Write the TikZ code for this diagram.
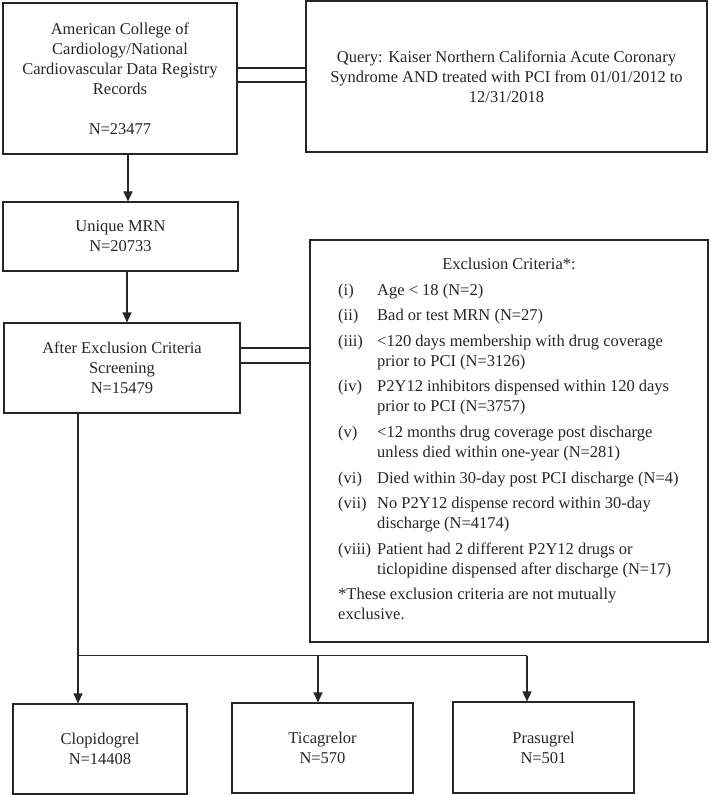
\documentclass[tikz,border=0pt]{standalone}
\usepackage{fontspec}
\setmainfont{Liberation Serif}
\usetikzlibrary{arrows.meta}
\begin{document}
\begin{tikzpicture}[x=1pt,y=-1pt,
  font=\fontsize{16.5}{20}\selectfont,
  box/.style={draw=black!85, line width=1.2pt, rectangle, inner sep=0pt, align=center, text=black!85},
  conn/.style={draw=black!85, line width=1.2pt},
  arr/.style={conn, -{Triangle[width=9pt,length=10pt]}},
  txt/.style={inner sep=0pt, text=black!85}]
\useasboundingbox[fill=white] (0,0) rectangle (710,795);

\node[box, minimum width=234pt, minimum height=151pt] (acc) at (120,78.5)
  {American College of\\Cardiology/National\\Cardiovascular Data Registry\\Records\\[20pt]N=23477};
\node[box, minimum width=401pt, minimum height=151pt] (query) at (506.5,76.5)
  {Query: Kaiser Northern California Acute Coronary\\Syndrome AND treated with PCI from 01/01/2012 to\\12/31/2018};
\node[box, minimum width=235pt, minimum height=69pt] (uniq) at (120.5,236.5)
  {Unique MRN\\N=20733};
\node[box, minimum width=236pt, minimum height=90pt] (after) at (122,368)
  {After Exclusion Criteria\\Screening\\N=15479};
\node[box, minimum width=398pt, minimum height=402pt] (excl) at (509,441) {};
\node[box, minimum width=174pt, minimum height=90pt] (clop) at (100,749)
  {Clopidogrel\\N=14408};
\node[box, minimum width=181pt, minimum height=90pt] (tica) at (322.5,748)
  {Ticagrelor\\N=570};
\node[box, minimum width=181pt, minimum height=91pt] (pras) at (543.5,747.5)
  {Prasugrel\\N=501};

\node[txt, anchor=base] (excltitle) at (509,269) {Exclusion Criteria*:};
\node[txt, anchor=base west] (excllist) at (338,295) {%
\begin{tabular}[t]{@{}p{39pt}@{}l@{}}
(i) & Age < 18 (N=2)\\[5.6pt]
(ii) & Bad or test MRN (N=27)\\[5.6pt]
(iii) & <120 days membership with drug coverage\\
 & prior to PCI (N=3126)\\[5.6pt]
(iv) & P2Y12 inhibitors dispensed within 120 days\\
 & prior to PCI (N=3757)\\[5.6pt]
(v) & <12 months drug coverage post discharge\\
 & unless died within one-year (N=281)\\[5.6pt]
(vi) & Died within 30-day post PCI discharge (N=4)\\[5.6pt]
(vii) & No P2Y12 dispense record within 30-day\\
 & discharge (N=4174)\\[5.6pt]
(viii) & Patient had 2 different P2Y12 drugs or\\
 & ticlopidine dispensed after discharge (N=17)\\[5.6pt]
\multicolumn{2}{@{}l@{}}{*These exclusion criteria are not mutually}\\
\multicolumn{2}{@{}l@{}}{exclusive.}
\end{tabular}};

% arrows down the left column
\draw[arr] ([xshift=8pt]acc.south) -- ([xshift=8pt]acc.south |- uniq.north);
\draw[arr] ([xshift=6.5pt]uniq.south) -- ([xshift=6.5pt]uniq.south |- after.north);

% double connectors
\draw[conn] ([yshift=10.5pt]acc.east) -- ([yshift=10.5pt]acc.east -| query.west);
\draw[conn] ([yshift=-3.5pt]acc.east) -- ([yshift=-3.5pt]acc.east -| query.west);
\draw[conn] ([yshift=20pt]after.east) -- ([yshift=20pt]after.east -| excl.west);
\draw[conn] ([yshift=5pt]after.east) -- ([yshift=5pt]after.east -| excl.west);

% split to the three drugs
\coordinate (cx) at ([xshift=-22pt]clop.north);
\coordinate (tx) at ([xshift=-4.5pt]tica.north);
\coordinate (px) at ([xshift=-16.5pt]pras.north);
\coordinate (hub) at ([yshift=-242pt]after.south -| cx);
\draw[arr] (after.south -| cx) -- (cx);
\draw[conn] (hub) -- (hub -| px);
\draw[arr] (hub -| tx) -- (tx);
\draw[arr] (hub -| px) -- (px);
\end{tikzpicture}
\end{document}
